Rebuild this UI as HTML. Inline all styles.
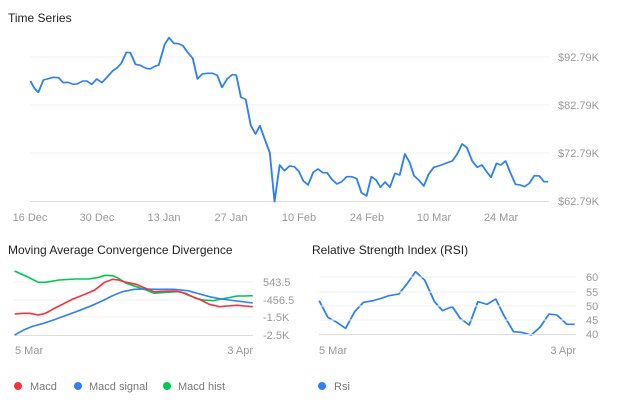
<!DOCTYPE html>
<html><head><meta charset="utf-8"><style>
html,body{margin:0;padding:0;background:#fff;width:618px;height:400px;overflow:hidden}
svg{display:block;font-family:"Liberation Sans",sans-serif}
.t{font-size:12px;fill:#222}
.l{font-size:11px;fill:#999}
.g{stroke:#f0f0f0;stroke-width:1}
</style></head><body>
<svg width="618" height="400" viewBox="0 0 618 400">
<text class="t" x="8" y="22">Time Series</text>
<line class="g" x1="30" y1="57" x2="549" y2="57"/>
<line class="g" x1="30" y1="105" x2="549" y2="105"/>
<line class="g" x1="30" y1="153" x2="549" y2="153"/>
<line x1="30" y1="201.5" x2="549" y2="201.5" stroke="#ddd"/>
<g class="l">
<text x="558" y="61">$92.79K</text><text x="558" y="109">$82.79K</text>
<text x="558" y="157">$72.79K</text><text x="558" y="205">$62.79K</text>
<g text-anchor="middle">
<text x="30" y="221">16 Dec</text><text x="97" y="221">30 Dec</text><text x="164" y="221">13 Jan</text><text x="231" y="221">27 Jan</text><text x="299" y="221">10 Feb</text><text x="367" y="221">24 Feb</text><text x="434" y="221">10 Mar</text><text x="501" y="221">24 Mar</text>
</g></g>
<g transform="scale(0.395,0.3333)" fill="none" stroke="#2f80f5" stroke-width="4.8" stroke-linejoin="round">
<polyline points="77,243 87,265 97,277 110,240 125,235 135,232 148,233 160,248 172,247 185,253 195,252 210,243 220,243 232,253 245,237 258,248 270,233 285,213 297,203 307,190 320,157 330,158 343,193 355,196 370,205 380,207 390,200 402,195 417,133 428,113 440,130 452,131 463,137 475,157 488,175 500,237 512,222 525,220 538,220 550,226 562,262 575,237 588,224 598,225 610,292 622,298 635,377 647,402 658,377 670,417 683,458 695,605 708,495 720,512 733,498 745,500 757,515 768,543 780,555 793,517 805,507 817,518 828,518 840,538 853,552 865,545 878,530 890,530 903,536 915,578 928,588 940,530 952,540 963,562 975,546 987,562 1000,520 1012,525 1025,462 1037,487 1048,527 1060,540 1073,558 1085,523 1098,502 1110,498 1122,493 1133,488 1145,483 1157,463 1170,432 1182,443 1195,482 1208,502 1220,495 1232,515 1243,532 1257,490 1268,495 1280,483 1292,518 1305,553 1317,555 1328,560 1340,550 1353,527 1365,528 1377,545 1388,545"/>
</g>

<text class="t" x="8" y="254">Moving Average Convergence Divergence</text>
<line class="g" x1="14" y1="282" x2="253" y2="282"/>
<line class="g" x1="14" y1="300" x2="253" y2="300"/>
<line class="g" x1="14" y1="317" x2="253" y2="317"/>
<line x1="14" y1="335.5" x2="253" y2="335.5" stroke="#ddd"/>
<g class="l">
<text x="263" y="286">543.5</text><text x="263" y="304">-456.5</text><text x="263" y="321">-1.5K</text><text x="263" y="339">-2.5K</text>
<text x="15" y="354">5 Mar</text><text x="253" y="354" text-anchor="end">3 Apr</text>
</g>
<g transform="translate(0,230) scale(0.395,0.3333)" fill="none" stroke-width="4.8" stroke-linejoin="round">
<polyline stroke="#00c853" points="37,123 65,138 97,157 115,157 150,150 190,147 225,147 250,142 265,136 285,137 300,145 320,160 345,170 365,178 390,190 420,187 450,185 470,190 495,205 515,210 540,212 560,207 580,203 600,198 620,198 640,197"/>
<polyline stroke="#2f80f5" points="37,315 60,300 80,290 110,280 140,268 170,255 200,242 230,228 260,212 285,197 310,185 340,178 365,177 400,178 440,178 475,182 500,190 530,200 560,207 600,213 640,219"/>
<polyline stroke="#f5333f" points="37,252 60,250 75,250 97,255 115,250 135,237 160,222 185,207 215,193 240,180 265,157 285,148 300,150 320,157 345,163 365,173 390,185 415,184 440,183 460,187 480,197 505,208 530,223 555,230 575,228 600,226 620,228 640,230"/>
<polyline stroke="#2f80f5" points="808,212 830,262 850,275 875,295 898,245 920,217 945,212 965,205 985,197 1010,192 1030,162 1052,125 1075,150 1100,215 1120,242 1145,230 1165,265 1188,285 1210,215 1233,223 1255,207 1275,255 1300,305 1320,307 1345,315 1367,292 1390,252 1410,255 1435,283 1455,283"/>
</g>
<circle cx="18" cy="386" r="4" fill="#f5333f"/><text class="l" x="30" y="390" style="fill:#777">Macd</text>
<circle cx="78" cy="386" r="4" fill="#2f80f5"/><text class="l" x="89" y="390" style="fill:#777">Macd signal</text>
<circle cx="167" cy="386" r="4" fill="#00c853"/><text class="l" x="178" y="390" style="fill:#777">Macd hist</text>

<text class="t" x="312" y="254">Relative Strength Index (RSI)</text>
<line class="g" x1="319" y1="277" x2="576" y2="277"/>
<line class="g" x1="319" y1="292" x2="576" y2="292"/>
<line class="g" x1="319" y1="306" x2="576" y2="306"/>
<line class="g" x1="319" y1="320" x2="576" y2="320"/>
<line x1="319" y1="334.5" x2="576" y2="334.5" stroke="#ddd"/>
<g class="l">
<text x="586" y="281">60</text><text x="586" y="296">55</text><text x="586" y="310">50</text><text x="586" y="324">45</text><text x="586" y="338">40</text>
<text x="319" y="354">5 Mar</text><text x="576" y="354" text-anchor="end">3 Apr</text>
</g>
<circle cx="322" cy="386" r="4" fill="#2f80f5"/><text class="l" x="334" y="390" style="fill:#777">Rsi</text>
</svg>
</body></html>
